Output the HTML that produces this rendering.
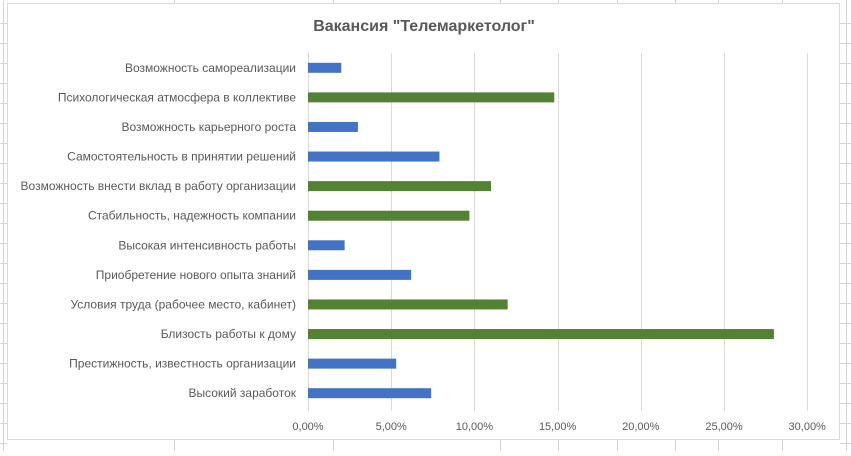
<!DOCTYPE html>
<html><head><meta charset="utf-8"><style>
body{margin:0;width:851px;height:451px;background:#fff;overflow:hidden;font-family:"Liberation Sans","DejaVu Sans",sans-serif}
</style></head><body>
<svg id="chart" width="851" height="451" xmlns="http://www.w3.org/2000/svg">
<g id="sheet" stroke="#d4d4d4" stroke-width="1"></g>
<rect x="7.5" y="3.5" width="832" height="436" fill="#fff" stroke="#d9d9d9"/>
<text x="424" y="31" text-anchor="middle" font-size="16" font-weight="bold" fill="#595959">Вакансия "Телемаркетолог"</text>
<g id="grid"></g><g id="bars"></g><g id="labels"></g><g id="ticks"></g>
</svg>
<script>
const categories=["Возможность самореализации","Психологическая атмосфера в коллективе","Возможность карьерного роста","Самостоятельность в принятии решений","Возможность внести вклад в работу организации","Стабильность, надежность компании","Высокая интенсивность работы","Приобретение нового опыта знаний","Условия труда (рабочее место, кабинет)","Близость работы к дому","Престижность, известность организации","Высокий заработок"];
const values=[2.0,14.8,3.0,7.9,11.0,9.7,2.2,6.2,12.0,28.0,5.3,7.4];
const highlighted=[false,true,false,false,true,true,false,false,true,true,false,false];
const tickValues=[0,5,10,15,20,25,30];
const tickLabels=["0,00%","5,00%","10,00%","15,00%","20,00%","25,00%","30,00%"];
const NS="http://www.w3.org/2000/svg";
const x0=308,pxPer=83.2/5,yTop=53,yBot=408;
const xs=v=>x0+v*pxPer;
const band=(yBot-yTop)/categories.length;
const yc=i=>yTop+band*(i+0.5);
function mk(t,a,p){const e=document.createElementNS(NS,t);for(const k in a)e.setAttribute(k,a[k]);p.appendChild(e);return e;}
const sheet=document.getElementById('sheet');
for(let y=23;y<451;y+=20){const l=mk('line',{x1:0,x2:7,y1:y+.5,y2:y+.5},sheet);
const r=mk('line',{x1:840,x2:851,y1:y+.5,y2:y+.5},sheet);}
[[846.5,0,451],[3.5,0,451]].forEach(a=>{const l=mk('line',{x1:a[0],x2:a[0],y1:a[1],y2:a[2]},sheet);});
[718.5,782.5,174.5,333.5,500.5,558.5,617.5,675.5].forEach(x=>{const l=mk('line',{x1:x,x2:x,y1:0,y2:3},sheet);
const b=mk('line',{x1:x,x2:x,y1:440,y2:451},sheet);});
const grid=document.getElementById('grid'),ticks=document.getElementById('ticks');
tickValues.forEach((v,i)=>{const x=Math.round(xs(v))+.5;
const l=mk('line',{x1:x,x2:x,y1:yTop,y2:yBot+3,stroke:'#d9d9d9'},grid);


const t=mk('text',{x:xs(v),y:430,'text-anchor':'middle','font-size':11,fill:'#595959'},ticks);t.textContent=tickLabels[i];

});
const bars=document.getElementById('bars'),labels=document.getElementById('labels');
categories.forEach((c,i)=>{
const r=mk('rect',{x:xs(0),y:yc(i)-5,width:xs(values[i])-xs(0),height:10,fill:highlighted[i]?'#548235':'#4472C4'},bars);


const t=mk('text',{x:296,y:yc(i)+4,'text-anchor':'end','font-size':12,fill:'#595959'},labels);t.textContent=c;

});
</script>
</body></html>
